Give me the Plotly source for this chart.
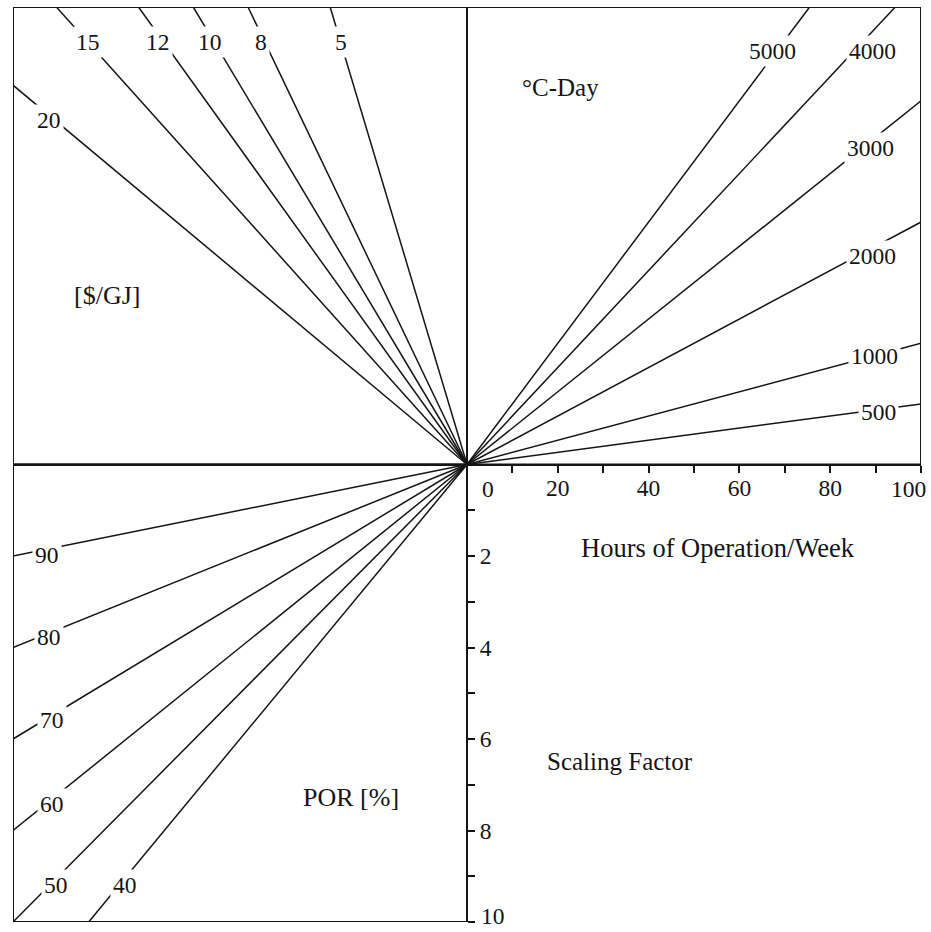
import plotly.graph_objects as go

# ---- nomogram families -------------------------------------------------
# upper right: heating degree-days (°C-Day)
degree_days = [500, 1000, 2000, 3000, 4000, 5000]
# upper left: fuel price [$/GJ]
fuel_prices = [5, 8, 10, 12, 15, 20]
# lower left: POR [%]
por_values = [90, 80, 70, 60, 50, 40]

# axis ticks
hour_ticks = [0, 20, 40, 60, 80, 100]
hour_minor = [10, 30, 50, 70, 90]
scale_ticks = [2, 4, 6, 8, 10]
scale_minor = [1, 3, 5, 7, 9]

# scale constants of the nomogram
K_DD = 2.65e-5      # energy per (degree-day x hour)
K_PRICE = 0.603     # cost per ($/GJ x energy)
K_POR = 0.002       # scaling factor per (% not returned x cost)

HMAX = 100.0        # half-width of the chart in hour units
SMAX = 10.0         # half-height of the chart in scaling-factor units

INK = "#151515"
SERIF = "Liberation Serif, Times New Roman, serif"
NUM_SIZE = 23.5
TXT_SIZE = 25

fig = go.Figure()


def add_family(points):
    xs, ys = [], []
    for (x1, y1) in points:
        xs += [0, x1, None]
        ys += [0, y1, None]
    fig.add_trace(go.Scatter(x=xs, y=ys, mode="lines",
                             line=dict(color=INK, width=1.5),
                             hoverinfo="skip", showlegend=False))


# upper right: y (up) = K_DD * DD * hours
ur_ends = []
for dd in degree_days:
    h_end = min(HMAX, SMAX / (K_DD * dd))
    ur_ends.append((h_end, -K_DD * dd * h_end))
add_family(ur_ends)

# upper left: x (left) = K_PRICE * price * energy
ul_ends = []
for p in fuel_prices:
    u_end = min(SMAX, HMAX / (K_PRICE * p))
    ul_ends.append((-K_PRICE * p * u_end, -u_end))
add_family(ul_ends)

# lower left: y (down) = K_POR * (100 - POR) * cost
ll_ends = []
for por in por_values:
    w = 100 - por
    c_end = min(HMAX, SMAX / (K_POR * w))
    ll_ends.append((-c_end, K_POR * w * c_end))
add_family(ll_ends)

annotations = []


def line_label(text, x, y, xshift=0, yshift=0):
    annotations.append(dict(x=x, y=y, xref="x", yref="y", text=text,
                            showarrow=False, xshift=xshift, yshift=yshift,
                            bgcolor="white", borderpad=2,
                            font=dict(family=SERIF, size=NUM_SIZE, color=INK)))


# labels sitting on the degree-day lines (placed by height on the line)
dd_label_u = [1.15, 2.37, 4.56, 6.92, 9.04, 9.04]
dd_label_dx = [17, 1, 15, 8, 18, -4]
for dd, u, dx in zip(degree_days, dd_label_u, dd_label_dx):
    line_label(str(dd), u / (K_DD * dd), -u, xshift=dx)

# labels on the price lines
price_label_u = [9.23, 9.23, 9.23, 9.23, 9.23, 7.53]
price_label_dx = [0, -4, -4, -6, 0, -6]
for p, u, dx in zip(fuel_prices, price_label_u, price_label_dx):
    line_label(str(p), -K_PRICE * p * u, -u, xshift=dx)

# labels on the POR lines (placed by cost along the line)
por_label_c = [92.5, 92.1, 91.4, 91.4, 91.9, 76.6]
por_label_dx = [0, 0, 0, 0, 6, 6]
por_label_dy = [-6, -4, -5, -5, 0, 0]
for por, c, dx, dy in zip(por_values, por_label_c, por_label_dx, por_label_dy):
    line_label(str(por), -c, K_POR * (100 - por) * c, xshift=dx, yshift=dy)


def title(text, x, y, size=TXT_SIZE):
    annotations.append(dict(x=x, y=y, xref="x", yref="y", text=text,
                            showarrow=False,
                            font=dict(family=SERIF, size=size, color=INK)))


title("Hours of Operation/Week", 55.3, 1.83, size=26.5)
title("Scaling Factor", 33.7, 6.50)
title("°C-Day", 20.5, -8.25)
title("[$/GJ]", -79.3, -3.70, size=26)
title("POR [%]", -25.6, 7.27, size=26)

# end labels of the two axes, nudged clear of the crossing and the page edge
tick_font = dict(family=SERIF, size=NUM_SIZE, color=INK)
annotations.append(dict(x=hour_ticks[0], y=0, xref="x", yref="y", text=str(hour_ticks[0]),
                        showarrow=False, xanchor="center", xshift=21, yshift=-24,
                        font=tick_font))
annotations.append(dict(x=hour_ticks[-1], y=0, xref="x", yref="y", text=str(hour_ticks[-1]),
                        showarrow=False, xanchor="right", xshift=7, yshift=-24,
                        font=tick_font))
annotations.append(dict(x=0, y=scale_ticks[-1], xref="x", yref="y", text=str(scale_ticks[-1]),
                        showarrow=False, xanchor="left", yanchor="bottom",
                        xshift=12, yshift=-9, font=tick_font))

hour_text = [str(v) for v in hour_ticks]
hour_text[0] = ""
hour_text[-1] = ""
scale_text = [str(v) for v in scale_ticks]
scale_text[-1] = ""

# frames around the three nomogram quadrants
shapes = []
for (x0, x1, y0, y1) in [(-HMAX, 0, -SMAX, 0), (0, HMAX, -SMAX, 0), (-HMAX, 0, 0, SMAX)]:
    shapes.append(dict(type="rect", xref="x", yref="y", x0=x0, x1=x1, y0=y0, y1=y1,
                       line=dict(color=INK, width=2), fillcolor="rgba(0,0,0,0)",
                       layer="below"))

fig.update_layout(
    width=931, height=932,
    margin=dict(l=13, r=10, t=7, b=10, autoexpand=False),
    paper_bgcolor="white", plot_bgcolor="white",
    showlegend=False,
    annotations=annotations,
    shapes=shapes,
    xaxis=dict(range=[-HMAX, HMAX], anchor="free", position=0.5, side="bottom",
               automargin=False,
               showgrid=False, zeroline=False,
               showline=True, linecolor=INK, linewidth=2,
               ticks="outside", ticklen=7, tickwidth=1.5, tickcolor=INK,
               tickvals=hour_ticks, ticktext=hour_text,
               ticklabelstandoff=-5,
               minor=dict(tickvals=hour_minor, ticks="outside", ticklen=7,
                          tickwidth=1.5, tickcolor=INK, showgrid=False),
               tickfont=tick_font),
    yaxis=dict(range=[SMAX, -SMAX], anchor="free", position=0.5, side="right",
               automargin=False,
               showgrid=False, zeroline=False,
               showline=True, linecolor=INK, linewidth=2,
               ticks="outside", ticklen=7, tickwidth=1.5, tickcolor=INK,
               tickvals=scale_ticks, ticktext=scale_text,
               minor=dict(tickvals=scale_minor, ticks="outside", ticklen=7,
                          tickwidth=1.5, tickcolor=INK, showgrid=False),
               tickfont=tick_font),
)

fig.write_html("out.html")
